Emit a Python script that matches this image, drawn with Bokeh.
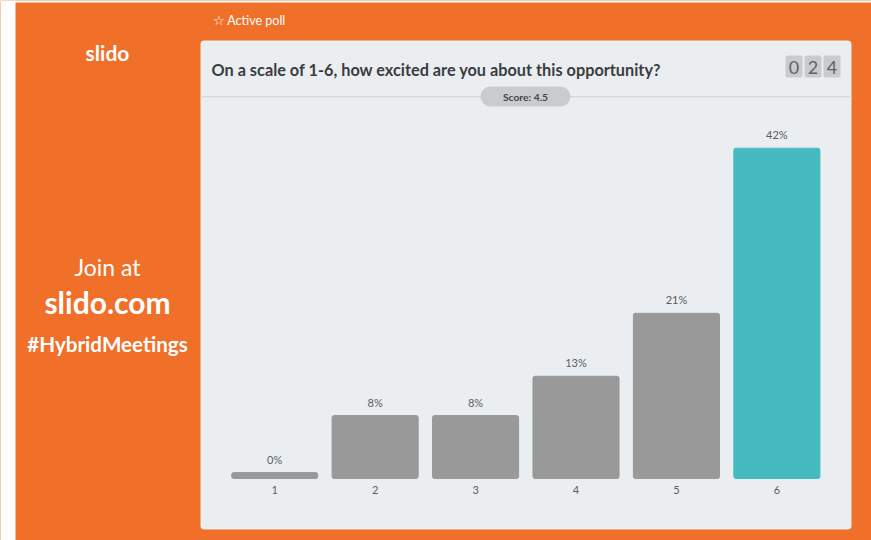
from bokeh.plotting import figure
from bokeh.models import ColumnDataSource, Range1d, BoxAnnotation, Label
from bokeh.core.properties import value
from bokeh.embed import file_html
from bokeh.resources import INLINE

# ---- data ----
categories = ["1", "2", "3", "4", "5", "6"]
percents = [0, 8, 8, 13, 21, 42]
score_text = "Score: 4.5"
response_digits = ["0", "2", "4"]
question = "On a scale of 1-6, how excited are you about this opportunity?"

# ---- style ----
ORANGE = "#f06f29"
PANEL = "#ebeef0"
GREY_BAR = "#989998"
TEAL = "#45bac0"
TEXT_DARK = "#3a3d40"
TEXT_MID = "#5a5d60"
FONT = "Lato"
MIN_VISIBLE = 0.75

hi = percents.index(max(percents))
colors = [TEAL if i == hi else GREY_BAR for i in range(len(percents))]
display_top = [max(v, MIN_VISIBLE) for v in percents]
labels = [f"{v}%" for v in percents]
xpos = [i + 0.5 for i in range(len(categories))]
zeros = [0] * len(categories)

src = ColumnDataSource(dict(x=xpos, cat=categories, top=display_top, color=colors,
                            label=labels, base=zeros))

# frame covers the whole canvas; ranges chosen so bars sit in the panel
p = figure(width=871, height=540,
           x_range=Range1d(-2.2304, 6.4423), y_range=Range1d(-7.884, 60.783),
           x_axis_location=None, y_axis_location=None,
           output_backend="svg", toolbar_location=None,
           min_border=0)
p.border_fill_color = ORANGE
p.background_fill_color = ORANGE
p.outline_line_color = None
p.xgrid.visible = False
p.ygrid.visible = False

def box(l, r, t, b, color, radius=0, level="underlay"):
    bx = BoxAnnotation(left=l, right=r, top=t, bottom=b,
                       left_units="canvas", right_units="canvas",
                       top_units="canvas", bottom_units="canvas",
                       fill_color=color, fill_alpha=1, line_color=None,
                       border_radius=radius, level=level)
    p.add_layout(bx)

def label(x, y, text, size, color, style="normal", align="left", baseline="middle", font=FONT):
    p.add_layout(Label(x=x, y=y, x_units="canvas", y_units="canvas", text=text,
                       text_font=font, text_font_size=size, text_font_style=style,
                       text_color=color, text_align=align, text_baseline=baseline))

# white margins
box(0, 15, 0, 540, "white")
box(0, 871, 0, 2, "white")
# panel
box(200, 851, 40, 529, PANEL, radius=4)
# separator
box(200, 851, 95.5, 97, "#d6dadc")
# score pill
box(480, 570, 86, 106, "#c9cccd", radius=10)
# counter boxes
for i, d in enumerate(response_digits):
    box(785 + i * 19, 802 + i * 19, 55, 77, "#c9cccd", radius=2)
    label(793.5 + i * 19, 67, d, "18px", "#5f6265", align="center")

label(212, 20, "\u2606 Active poll", "12.5px", "white")
label(211, 69, question, "16.3px", TEXT_DARK, style="bold")
label(525, 96, score_text, "10.3px", "#444", style="bold", align="center")

# left side texts
label(107, 52, "slido", "21px", "white", style="bold", align="center")
label(107, 266, "Join at", "23px", "white", align="center")
label(107, 301, "slido.com", "30px", "white", style="bold", align="center")
label(107, 343, "#HybridMeetings", "20.6px", "white", style="bold", align="center")

p.vbar(x="x", top="top", width=0.857, color="color", source=src, border_radius=2)
p.text(x="x", y="top", text="label", source=src, text_align="center",
       text_baseline="bottom", y_offset=-7, text_font=value(FONT),
       text_font_size="11px", text_color=TEXT_MID)
p.text(x="x", y="base", text="cat", source=src, text_align="center",
       text_baseline="top", y_offset=8, text_font=value(FONT),
       text_font_size="11px", text_color=TEXT_MID)

open("out.html", "w").write(file_html(p, INLINE))
